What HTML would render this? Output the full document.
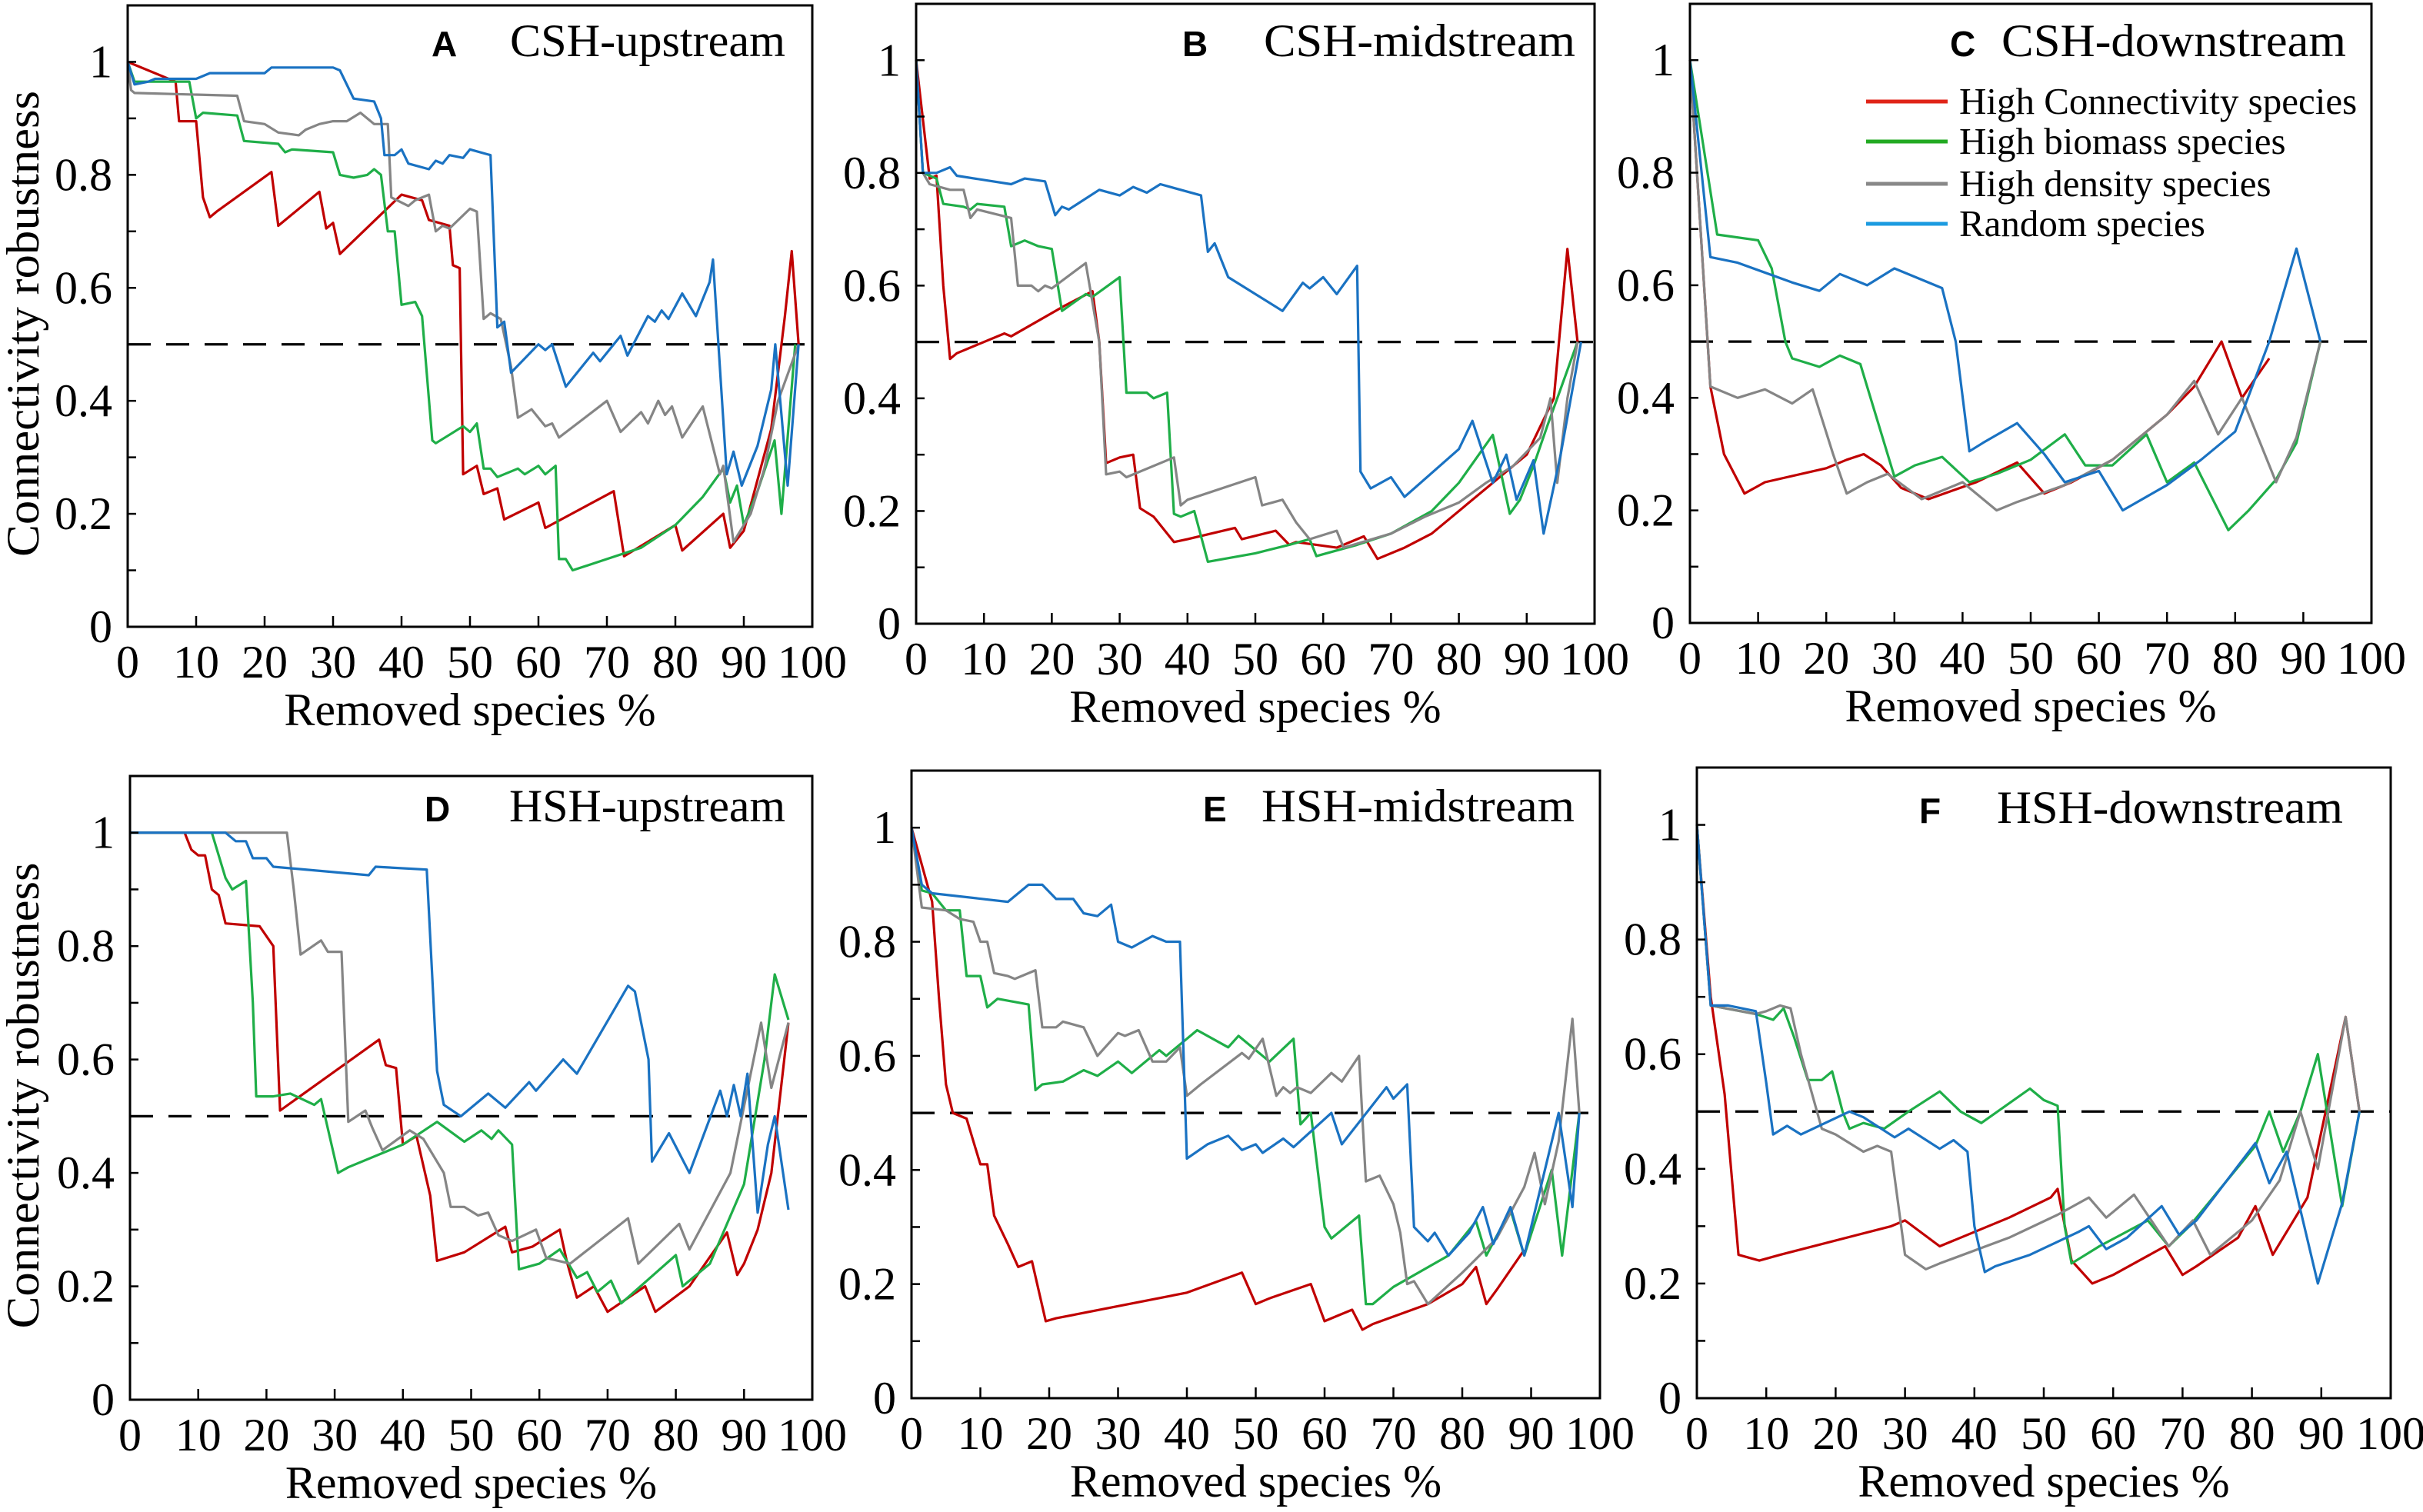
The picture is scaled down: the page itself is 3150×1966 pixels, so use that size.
<!DOCTYPE html>
<html><head><meta charset="utf-8">
<style>
html,body{margin:0;padding:0;background:#fff;}
svg{display:block;}
text{font-family:"Liberation Serif",serif;fill:#000;}
</style></head>
<body>
<svg id="chart" width="3150" height="1966" viewBox="0 0 3150 1966" xmlns="http://www.w3.org/2000/svg"></svg>
<script>
// ---- data (x = removed species %, y = connectivity robustness) ----
const xTicks = [0,10,20,30,40,50,60,70,80,90,100];
const yTickLabels = ["0","0.2","0.4","0.6","0.8","1"];
const yTickValues = [0,0.2,0.4,0.6,0.8,1];
const seriesNames = ["High Connectivity species","High biomass species","High density species","Random species"];
const threshold = 0.5;

const aRed = [[0,1],[7,0.965],[7.5,0.895],[10,0.895],[11,0.76],[12,0.725],[13,0.735],[21,0.805],[22,0.71],[28,0.77],[29,0.705],[30,0.715],[31,0.66],[40,0.765],[43,0.755],[44,0.72],[47,0.71],[47.5,0.64],[48.5,0.635],[49,0.27],[51,0.285],[52,0.235],[54,0.245],[55,0.19],[60,0.22],[61,0.175],[71,0.24],[72.5,0.125],[80,0.18],[81,0.135],[87,0.2],[88,0.14],[90,0.17],[94,0.35],[96,0.55],[97,0.665],[98,0.5]];
const aGreen = [[0,1],[1,0.965],[9,0.965],[10,0.9],[11,0.91],[16,0.905],[17,0.86],[22,0.855],[23,0.84],[24,0.845],[30,0.84],[31,0.8],[33,0.795],[35,0.8],[36,0.81],[37,0.8],[38,0.7],[39,0.7],[40,0.57],[42,0.575],[43,0.55],[44.5,0.33],[45,0.325],[47,0.34],[49,0.355],[50,0.345],[51,0.36],[52,0.28],[53,0.28],[54,0.265],[57,0.28],[58,0.27],[60,0.285],[61,0.27],[62.5,0.285],[63,0.12],[64,0.12],[65,0.1],[70,0.12],[75,0.14],[80,0.18],[84,0.23],[87,0.28],[88,0.22],[89,0.25],[90,0.18],[92,0.24],[94.5,0.33],[95.5,0.2],[97.5,0.5]];
const aGray = [[0,1],[0.5,0.95],[1,0.945],[16,0.94],[17,0.895],[20,0.89],[22,0.875],[25,0.87],[26,0.88],[28,0.89],[30,0.895],[32,0.895],[34,0.91],[36,0.89],[38,0.89],[38.5,0.76],[41,0.745],[42,0.755],[44,0.765],[45,0.7],[46,0.71],[47,0.705],[50,0.74],[51,0.735],[52,0.545],[53,0.555],[54.5,0.545],[56,0.46],[57,0.37],[59,0.385],[61,0.355],[62,0.36],[63,0.335],[70,0.4],[72,0.345],[75,0.38],[76,0.36],[77.5,0.4],[78.5,0.375],[79.5,0.39],[81,0.335],[84,0.39],[86.5,0.27],[87,0.285],[88.5,0.15],[91,0.2],[93,0.28],[95,0.4],[98,0.5]];
const aBlue = [[0,1],[1,0.96],[3,0.965],[4,0.97],[10,0.97],[12,0.98],[20,0.98],[21,0.99],[30,0.99],[31,0.985],[33,0.935],[36,0.93],[37,0.9],[37.5,0.835],[39,0.835],[40,0.845],[41,0.82],[44,0.81],[45,0.825],[46,0.82],[47,0.835],[49,0.83],[50,0.845],[53,0.835],[54,0.53],[55,0.54],[56,0.45],[60,0.5],[61,0.49],[62,0.5],[64,0.425],[68,0.485],[69,0.47],[72,0.515],[73,0.48],[76,0.55],[77,0.54],[78,0.56],[79,0.545],[81,0.59],[83,0.55],[85,0.61],[85.5,0.65],[87.5,0.27],[88.5,0.31],[89.7,0.25],[92,0.32],[94,0.42],[94.6,0.5],[96.4,0.25],[98,0.5]];

const bRed = [[0,1],[2,0.79],[3,0.795],[4,0.6],[5,0.47],[6,0.48],[13,0.515],[14,0.51],[22,0.565],[26,0.59],[27,0.5],[28,0.285],[30,0.295],[32,0.3],[33,0.205],[35,0.19],[38,0.145],[40,0.15],[47,0.17],[48,0.15],[53,0.165],[55,0.14],[56,0.145],[62,0.135],[66,0.155],[68,0.115],[72,0.135],[76,0.16],[85,0.25],[90,0.3],[94,0.4],[96,0.665],[97.5,0.5]];
const bGreen = [[0,1],[1,0.8],[3,0.79],[4,0.745],[7,0.74],[8,0.735],[9,0.745],[13,0.74],[14,0.67],[16,0.68],[18,0.67],[20,0.665],[21.5,0.555],[25,0.585],[26,0.58],[30,0.615],[31,0.41],[34,0.41],[35,0.4],[37,0.41],[38,0.195],[39,0.19],[41,0.2],[43,0.11],[50,0.125],[55,0.14],[58,0.15],[59,0.12],[65,0.14],[70,0.16],[76,0.2],[80,0.25],[85,0.335],[87.5,0.195],[89,0.22],[91,0.28],[93,0.35],[97.5,0.5]];
const bGray = [[0,1],[1,0.8],[2,0.78],[5,0.77],[7,0.77],[8,0.72],[9,0.735],[14,0.72],[15,0.6],[17,0.6],[18,0.59],[19,0.6],[20,0.595],[25,0.64],[27,0.5],[28,0.265],[30,0.27],[31,0.26],[38,0.295],[39,0.21],[40,0.22],[50,0.26],[51,0.21],[54,0.22],[56,0.18],[58,0.15],[62,0.165],[63,0.135],[70,0.16],[75,0.19],[80,0.215],[84,0.25],[88,0.28],[92,0.33],[93.5,0.4],[94.5,0.25],[96,0.4],[97.5,0.5]];
const bBlue = [[0,1],[1,0.8],[3,0.8],[5,0.81],[6,0.795],[14,0.78],[16,0.79],[19,0.785],[20.5,0.725],[21.5,0.74],[22.5,0.735],[27,0.77],[30,0.76],[32,0.775],[34,0.765],[36,0.78],[42,0.76],[43,0.66],[44,0.675],[46,0.615],[48,0.6],[54,0.555],[57,0.605],[58,0.595],[60,0.615],[62,0.585],[65,0.635],[65.5,0.27],[67,0.24],[70,0.26],[72,0.225],[80,0.31],[82,0.36],[85,0.25],[87,0.3],[88.5,0.22],[91,0.29],[92.5,0.16],[95,0.3],[98,0.5]];

const cRed = [[0,1],[3,0.42],[5,0.3],[8,0.23],[11,0.25],[20,0.275],[23,0.29],[25.5,0.3],[28,0.28],[31,0.24],[35,0.22],[42,0.25],[48,0.285],[52,0.23],[56,0.25],[62,0.29],[70,0.37],[74,0.42],[78,0.5],[81,0.4],[85,0.47]];
const cGreen = [[0,1],[4,0.69],[10,0.68],[12,0.63],[14,0.5],[15,0.47],[19,0.455],[22,0.475],[25,0.46],[27,0.38],[30,0.26],[33,0.28],[37,0.295],[41,0.25],[45,0.265],[50,0.29],[55,0.335],[58,0.28],[62,0.28],[67,0.335],[70,0.25],[74,0.285],[79,0.165],[82,0.2],[86,0.255],[89,0.32],[92.5,0.5]];
const cGray = [[0,1],[3,0.42],[7,0.4],[11,0.415],[15,0.39],[18,0.415],[21,0.3],[23,0.23],[26,0.25],[29,0.265],[34,0.22],[37,0.235],[40,0.25],[45,0.2],[48,0.215],[55,0.245],[62,0.29],[66,0.33],[70,0.37],[74,0.43],[77.5,0.335],[81,0.4],[86,0.25],[89,0.33],[92.5,0.5]];
const cBlue = [[0,1],[3,0.65],[7,0.64],[15,0.605],[19,0.59],[22,0.62],[26,0.6],[30,0.63],[34,0.61],[37,0.595],[39,0.5],[41,0.305],[43,0.32],[48,0.355],[52,0.3],[55,0.25],[60,0.27],[63.5,0.2],[70,0.245],[75,0.29],[80,0.34],[85,0.5],[89,0.665],[92.5,0.5]];

const dRed = [[0,1],[8,1],[9,0.97],[10,0.96],[11,0.96],[12,0.9],[13,0.89],[14,0.84],[19,0.835],[21,0.8],[22,0.51],[36.5,0.635],[37.5,0.59],[39,0.585],[40,0.45],[42,0.465],[44,0.36],[45,0.245],[49,0.26],[55,0.305],[56,0.26],[59,0.27],[63,0.3],[64,0.245],[65.5,0.18],[68,0.2],[70,0.155],[75.5,0.2],[77,0.155],[82,0.2],[87.5,0.295],[89,0.22],[90,0.24],[92,0.3],[94,0.4],[96.5,0.665]];
const dGreen = [[0,1],[12,1],[14,0.92],[15,0.9],[17,0.915],[18,0.7],[18.5,0.535],[21,0.535],[23.5,0.54],[27,0.52],[28,0.53],[30.5,0.4],[32,0.41],[38,0.44],[40,0.45],[45,0.49],[49,0.455],[51.5,0.475],[53,0.46],[54,0.475],[56,0.45],[57,0.23],[60,0.24],[63,0.265],[65.5,0.215],[67,0.225],[68.5,0.19],[70.5,0.21],[72,0.17],[80,0.255],[81,0.2],[85,0.24],[90,0.38],[93,0.6],[94.5,0.75],[96.5,0.67]];
const dGray = [[0,1],[23,1],[24,0.9],[25,0.785],[28,0.81],[29,0.79],[31,0.79],[32,0.49],[34.5,0.51],[35.5,0.48],[37,0.44],[41,0.475],[43,0.46],[46,0.4],[47,0.34],[49,0.34],[51,0.325],[52.5,0.33],[54,0.29],[56,0.28],[59.5,0.3],[61,0.25],[64.5,0.24],[73,0.32],[74.5,0.24],[80.5,0.31],[82,0.265],[88,0.4],[92.5,0.665],[94,0.55],[96.5,0.665]];
const dBlue = [[0,1],[14,1],[15.5,0.985],[17,0.985],[18,0.955],[20,0.955],[21,0.94],[35,0.925],[36,0.94],[43.5,0.935],[45,0.58],[46,0.52],[48.5,0.5],[52.5,0.54],[55,0.515],[58.5,0.56],[59.5,0.545],[63.5,0.6],[65.5,0.575],[73,0.73],[74,0.72],[76,0.6],[76.5,0.42],[79,0.47],[82,0.4],[86.5,0.545],[87.5,0.5],[88.5,0.555],[89.5,0.5],[90.5,0.575],[92,0.33],[93.5,0.45],[94.5,0.5],[96.5,0.335]];

const eRed = [[0,1],[3,0.87],[4,0.7],[5,0.55],[6,0.5],[8,0.49],[9,0.45],[10,0.41],[11,0.41],[12,0.32],[14,0.27],[15.5,0.23],[17.5,0.24],[19.5,0.135],[21,0.14],[40,0.185],[48,0.22],[50,0.165],[52,0.175],[58,0.2],[60,0.135],[62,0.145],[64,0.155],[65.5,0.12],[67,0.13],[75,0.165],[80,0.2],[82,0.23],[83.5,0.165],[85,0.19],[89,0.26]];
const eGreen = [[0,1],[1.5,0.89],[3,0.885],[5,0.855],[7,0.855],[8,0.74],[10,0.74],[11,0.685],[12.5,0.7],[17,0.69],[18,0.54],[19,0.55],[22,0.555],[25,0.575],[27,0.565],[30,0.59],[32,0.57],[36,0.61],[37,0.6],[41.5,0.645],[46,0.615],[47.5,0.635],[52,0.59],[55.5,0.63],[56.5,0.48],[58,0.5],[60,0.3],[61,0.28],[63,0.3],[65,0.32],[66,0.165],[67,0.165],[70,0.195],[78,0.25],[82,0.31],[83.5,0.25],[87,0.33],[89,0.25],[93,0.4],[94.5,0.25],[97,0.5]];
const eGray = [[0,1],[1.5,0.86],[5,0.855],[7,0.84],[9,0.835],[10,0.8],[11,0.8],[12,0.745],[14,0.74],[15,0.735],[18,0.75],[19,0.65],[21,0.65],[22,0.66],[25,0.65],[27,0.6],[30,0.64],[31,0.635],[33,0.645],[35,0.59],[37,0.59],[39,0.615],[40,0.53],[42,0.55],[48,0.605],[49,0.595],[51,0.63],[53,0.53],[54,0.545],[55,0.535],[56,0.545],[58,0.535],[61,0.57],[62.5,0.555],[65,0.6],[66,0.38],[68,0.39],[70,0.34],[71,0.29],[72,0.2],[73,0.205],[75,0.165],[80,0.22],[85,0.28],[89,0.37],[90.5,0.43],[92,0.34],[94,0.45],[96,0.665],[97,0.5]];
const eBlue = [[0,1],[1.5,0.9],[3,0.885],[14,0.87],[17,0.9],[19,0.9],[21,0.875],[23.5,0.875],[25,0.85],[27,0.845],[29,0.865],[30,0.8],[32,0.79],[35,0.81],[37,0.8],[39,0.8],[40,0.42],[43,0.445],[46,0.46],[48,0.435],[50,0.445],[51,0.43],[54,0.455],[55.5,0.44],[61,0.5],[62.5,0.445],[69,0.545],[70,0.525],[72,0.55],[73,0.3],[75,0.275],[76,0.29],[78,0.25],[81,0.29],[83,0.335],[84.5,0.27],[87,0.335],[89,0.25],[94,0.5],[96,0.335],[97,0.5]];

const fRed = [[0,1],[2,0.7],[4,0.53],[6,0.25],[9,0.24],[12,0.25],[28,0.3],[30,0.31],[35,0.265],[38,0.28],[45,0.315],[51,0.35],[52,0.365],[54,0.24],[57,0.2],[60,0.215],[66,0.255],[67.5,0.265],[70,0.215],[72,0.23],[78,0.28],[80.5,0.335],[83,0.25],[88,0.35],[93.5,0.665],[95.5,0.5]];
const fGreen = [[0,1],[2,0.685],[8.5,0.67],[11,0.66],[12.5,0.68],[14,0.63],[16,0.555],[18,0.555],[19.5,0.57],[21,0.5],[22,0.47],[24,0.48],[27,0.47],[30.5,0.5],[35,0.535],[38,0.5],[41,0.48],[48,0.54],[50,0.52],[52,0.51],[53,0.3],[54,0.235],[58,0.265],[65,0.31],[68,0.265],[71,0.3],[80.5,0.44],[82.5,0.5],[84.5,0.43],[87,0.5],[89.5,0.6],[93,0.335],[95.5,0.5]];
const fGray = [[0,1],[2,0.685],[8.5,0.67],[10,0.675],[12,0.685],[13.5,0.68],[15,0.6],[18,0.47],[20,0.46],[24,0.43],[26,0.44],[28,0.43],[30,0.25],[33,0.225],[35,0.235],[45,0.28],[52,0.32],[56.5,0.35],[59,0.315],[63,0.355],[68,0.265],[71.5,0.31],[74,0.25],[80,0.31],[84,0.38],[87,0.5],[89.5,0.4],[93.5,0.665],[95.5,0.5]];
const fBlue = [[0,1],[2,0.685],[4.5,0.685],[8.5,0.675],[10,0.55],[11,0.46],[13,0.475],[15,0.46],[22,0.5],[24,0.49],[28.5,0.455],[30.5,0.47],[35,0.435],[37,0.45],[39,0.43],[40,0.3],[41.5,0.22],[43,0.23],[48,0.25],[55,0.29],[56.5,0.3],[59,0.26],[62,0.28],[67,0.335],[69.5,0.285],[72,0.31],[80.5,0.445],[82.5,0.375],[85,0.43],[89.5,0.2],[91,0.26],[93,0.34],[95.5,0.5]];

// ---- layout (not data) ----
const NS = "http://www.w3.org/2000/svg";
const svg = document.getElementById('chart');
const colors = ["#c00000","#1fae48","#858585","#1a72c2"];
const legendColors = ["#e02418","#22aa22","#888888","#1c9be0"];
const panels = [
  {id:"a",letter:"A",title:"CSH-upstream",L:166,R:1056,T:7,B:815,lx:561,tx:663,tw:358,by:73,ylab:true,series:[aRed,aGreen,aGray,aBlue]},
  {id:"b",letter:"B",title:"CSH-midstream",L:1191,R:2073,T:5,B:811,lx:1537,tx:1643,tw:405,by:73,ylab:false,series:[bRed,bGreen,bGray,bBlue]},
  {id:"c",letter:"C",title:"CSH-downstream",L:2197,R:3083,T:5,B:810,lx:2535,tx:2602,tw:448,by:73,ylab:false,series:[cRed,cGreen,cGray,cBlue],legend:true},
  {id:"d",letter:"D",title:"HSH-upstream",L:169,R:1056,T:1009,B:1820,lx:552,tx:662,tw:359,by:1068,ylab:true,series:[dRed,dGreen,dGray,dBlue]},
  {id:"e",letter:"E",title:"HSH-midstream",L:1185,R:2080,T:1002,B:1818,lx:1564,tx:1640,tw:407,by:1068,ylab:false,series:[eRed,eGreen,eGray,eBlue]},
  {id:"f",letter:"F",title:"HSH-downstream",L:2206,R:3108,T:998,B:1818,lx:2495,tx:2596,tw:450,by:1070,ylab:false,series:[fRed,fGreen,fGray,fBlue]}
];
const YMAX = 1.1;

function mk(tag, attrs, parent){
  const el = document.createElementNS(NS, tag);
  for (const k in attrs) el.setAttribute(k, attrs[k]);
  (parent||svg).appendChild(el);
  return el;
}

panels.forEach(p => {
  const xS = v => p.L + (v/100)*(p.R-p.L);
  const yS = v => p.B - (v/YMAX)*(p.B-p.T);
  const g = mk('g', {});
  
  

  const th = mk('line', {x1:p.L, x2:p.R, y1:yS(threshold), y2:yS(threshold), stroke:'#000', 'stroke-width':3.2, 'stroke-dasharray':'30,20'}, g);
  
  

  p.series.forEach((pts, si) => {
    const d = pts.map((pt,i) => (i?'L':'M') + xS(pt[0]).toFixed(1) + ',' + yS(pt[1]).toFixed(1)).join(' ');
    const path = mk('path', {d:d, fill:'none', stroke:colors[si], 'stroke-width':3.2, 'stroke-linejoin':'round'}, g);
    
    
  });

  const fr = mk('rect', {x:p.L, y:p.T, width:p.R-p.L, height:p.B-p.T, fill:'none', stroke:'#000', 'stroke-width':3}, g);
  
  

  for (let k = 0; k <= 10; k++) {
    const yy = yS(k/10);
    mk('line', {x1:p.L, x2:p.L+11, y1:yy, y2:yy, stroke:'#000', 'stroke-width':2.5}, g);
  }
  yTickValues.forEach((v, i) => {
    const t = mk('text', {x:p.L-20, y:yS(v)+20, 'font-size':60, 'text-anchor':'end'}, g);
    t.textContent = yTickLabels[i];
    
    
  });
  xTicks.forEach(v => {
    const xx = xS(v);
    mk('line', {x1:xx, x2:xx, y1:p.B, y2:p.B-14, stroke:'#000', 'stroke-width':2.5}, g);
    const t = mk('text', {x:xx, y:p.B+66, 'font-size':60, 'text-anchor':'middle'}, g);
    t.textContent = String(v);
    
    
  });
  const xt = mk('text', {x:(p.L+p.R)/2, y:p.B+128, 'font-size':60, 'text-anchor':'middle'}, g);
  xt.textContent = 'Removed species %';
  
  
  if (p.ylab) {
    const cy = (p.T+p.B)/2 + 10;
    const yt = mk('text', {x:0, y:0, 'font-size':60, 'text-anchor':'middle', transform:'translate(50,'+cy+') rotate(-90)', textLength:606, lengthAdjust:'spacingAndGlyphs'}, g);
    yt.textContent = 'Connectivity robustness';
    
    
  }
  const lt = mk('text', {x:p.lx, y:p.by, 'font-size':46, 'font-weight':'bold', style:'font-family:"Liberation Sans",sans-serif'}, g);
  lt.textContent = p.letter;
  
  
  const tt = mk('text', {x:p.tx, y:p.by, 'font-size':60, textLength:p.tw, lengthAdjust:'spacingAndGlyphs'}, g);
  tt.textContent = p.title;
  
  

  if (p.legend) {
    const lg = mk('g', {}, g);
    
    
    const rows = [132,184,239,291];
    seriesNames.forEach((nm, i) => {
      const e = mk('g', {}, lg);
      
      
      mk('line', {x1:2426, x2:2532, y1:rows[i], y2:rows[i], stroke:legendColors[i], 'stroke-width':5}, e);
      const t = mk('text', {x:2547, y:rows[i]+16, 'font-size':49}, e);
      t.textContent = nm;
    });
  }
});
</script>
</body></html>
